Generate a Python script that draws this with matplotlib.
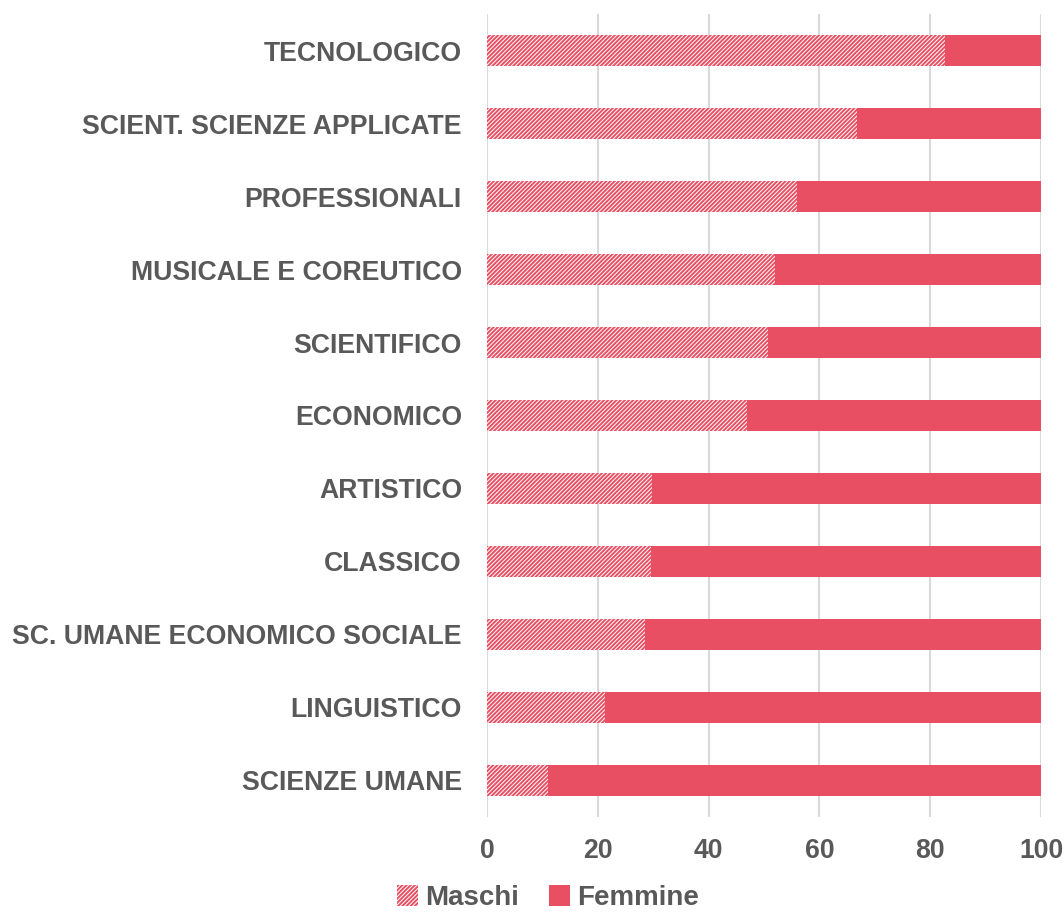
import matplotlib
matplotlib.use("Agg")
import matplotlib.pyplot as plt
from matplotlib.patches import Patch

plt.rcParams['font.family'] = ['Liberation Sans', 'DejaVu Sans']
plt.rcParams['hatch.linewidth'] = 1.4

# dati (percentuali), dal basso verso l'alto
indirizzi = ['SCIENZE UMANE', 'LINGUISTICO', 'SC. UMANE ECONOMICO SOCIALE',
             'CLASSICO', 'ARTISTICO', 'ECONOMICO', 'SCIENTIFICO',
             'MUSICALE E COREUTICO', 'PROFESSIONALI',
             'SCIENT. SCIENZE APPLICATE', 'TECNOLOGICO']
maschi = [11.0, 21.3, 28.5, 29.6, 29.8, 47.0, 50.7, 52.0, 56.0, 66.8, 82.7]
femmine = [100 - m for m in maschi]

rosso = '#E84F63'
grigio = '#595959'

fig = plt.figure(figsize=(10.64, 9.16), dpi=100)
ax = fig.add_axes([0.4577, 0.1081, 0.5207, 0.8766])

y = range(len(indirizzi))
ax.barh(y, maschi, height=0.43, color='white', edgecolor=rosso,
        hatch='////////', linewidth=0, zorder=3)
ax.barh(y, femmine, left=maschi, height=0.43, color=rosso,
        linewidth=0, zorder=3)

ax.set_xlim(0, 100)
ax.set_ylim(-0.5, len(indirizzi) - 0.5)
ax.set_xticks(range(0, 101, 20))
ax.set_yticks(list(y))
ax.set_yticklabels(indirizzi)
ax.grid(axis='x', color='#D9D9D9', linewidth=1.5, zorder=0)
ax.set_axisbelow(True)
for s in ax.spines.values():
    s.set_visible(False)
ax.tick_params(axis='both', length=0, labelsize=19.2, labelcolor=grigio)
ax.tick_params(axis='y', pad=18)
ax.tick_params(axis='x', pad=15)
for lab in ax.get_xticklabels() + ax.get_yticklabels():
    lab.set_fontweight('bold')

handles = [Patch(facecolor='white', edgecolor=rosso, hatch='////////', linewidth=0),
           Patch(facecolor=rosso, linewidth=0)]
fig.legend(handles, ['Maschi', 'Femmine'], loc='lower center',
           bbox_to_anchor=(0.515, -0.022), ncol=2, frameon=False,
           handlelength=0.75, handleheight=0.75, handletextpad=0.25,
           columnspacing=1.1, prop={'size': 20, 'weight': 'bold'},
           labelcolor=grigio)

fig.savefig('out.png', dpi=100)
